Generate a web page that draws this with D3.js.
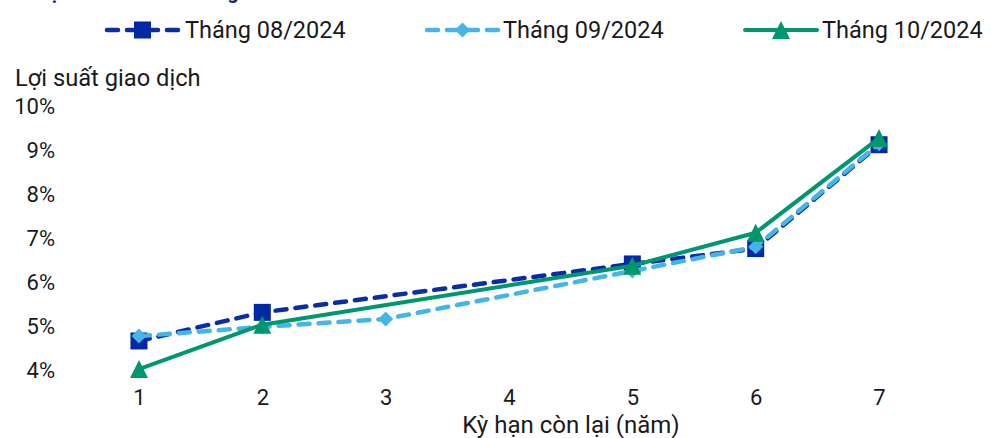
<!DOCTYPE html>
<html>
<head>
<meta charset="utf-8">
<script src="https://cdn.jsdelivr.net/npm/d3@7/dist/d3.min.js"></script>
<style>
  html, body { margin: 0; padding: 0; background: #ffffff; }
  svg { display: block; }
  text { font-family: Roboto, "Noto Sans", sans-serif; }
</style>
</head>
<body>
<div id="chart"></div>
<script>
// ---- data ----
const categories = [1, 2, 3, 4, 5, 6, 7];
const seriesNames = ["Tháng 08/2024", "Tháng 09/2024", "Tháng 10/2024"];
const values08 = [4.66, 5.31, null, null, 6.41, 6.76, 9.12];
const values09 = [4.77, 4.98, 5.16, null, 6.25, 6.80, 9.14];
const values10 = [4.02, 5.03, null, null, 6.37, 7.12, 9.27];
const yTicks = [4, 5, 6, 7, 8, 9, 10];
const yAxisTitle = "Lợi suất giao dịch";
const xAxisTitle = "Kỳ hạn còn lại (năm)";
const titleText = "Lợi suất TPCP đã tăng";

const W = 991, H = 438;
const svg = d3.select("#chart").append("svg").attr("width", W).attr("height", H);

const x = d3.scalePoint().domain(categories).range([77.3, 940.7]).padding(0.5);
const y = d3.scaleLinear().domain([4, 10]).range([370, 106]);

const styles = [
  { color: "#0A2CA5", dash: "11,9", width: 4.5, marker: "square", mcolor: "#0029A3" },
  { color: "#45B5E8", dash: "11,9", width: 4.5, marker: "diamond", mcolor: "#45B5E8" },
  { color: "#00976F", dash: null, width: 4, marker: "triangle", mcolor: "#00976F" }
];
const allSeries = [values08, values09, values10];

// cut-off title (the reference shows only its lower edge)
svg.append("text").attr("x", 38).attr("y", -1.5)
  .attr("font-size", 20).attr("font-weight", "bold").attr("fill", "#1B2A72")
  .text(titleText);

// axes (labels only)
const yAxis = d3.axisLeft(y).tickValues(yTicks).tickFormat(d => d + "%").tickSize(0).tickPadding(0);
const gy = svg.append("g").attr("transform", "translate(55,0)").call(yAxis);
gy.select(".domain").remove();
gy.selectAll("text").attr("font-size", 22).attr("fill", "#1a1a1a")
  .attr("font-family", "Roboto, sans-serif").attr("dy", "0.35em");

const xAxis = d3.axisBottom(x).tickSize(0).tickPadding(0);
const gx = svg.append("g").attr("transform", "translate(0,389.5)").call(xAxis);
gx.select(".domain").remove();
gx.selectAll("text").attr("font-size", 22).attr("fill", "#1a1a1a")
  .attr("font-family", "Roboto, sans-serif").attr("dy", "0.71em");

svg.append("text").attr("x", 15).attr("y", 86).attr("font-size", 23.7).attr("fill", "#1a1a1a")
  .text(yAxisTitle);
svg.append("text").attr("x", 571).attr("y", 433).attr("text-anchor", "middle")
  .attr("font-size", 24).attr("fill", "#1a1a1a").text(xAxisTitle);

// markers
function drawMarker(g, type, cx, cy, color) {
  if (type === "square") {
    g.append("rect").attr("x", cx - 8.5).attr("y", cy - 8.5).attr("width", 17).attr("height", 17).attr("fill", color);
  } else if (type === "diamond") {
    const s = 7.5;
    g.append("path").attr("d", `M${cx},${cy - s}L${cx + s},${cy}L${cx},${cy + s}L${cx - s},${cy}Z`).attr("fill", color);
  } else {
    const s = 9;
    g.append("path").attr("d", `M${cx},${cy - s}L${cx + s},${cy + s}L${cx - s},${cy + s}Z`).attr("fill", color);
  }
}

// lines
allSeries.forEach((vals, i) => {
  const st = styles[i];
  const pts = categories.map((c, j) => ({ c, v: vals[j] })).filter(d => d.v !== null);
  const line = d3.line().x(d => x(d.c)).y(d => y(d.v));
  const p = svg.append("path").datum(pts).attr("d", line)
    .attr("fill", "none").attr("stroke", st.color).attr("stroke-width", st.width)
    .attr("stroke-linejoin", "round").attr("stroke-linecap", "round");
  if (st.dash) p.attr("stroke-dasharray", st.dash);
  const g = svg.append("g");
  pts.forEach(d => drawMarker(g, st.marker, x(d.c), y(d.v), st.mcolor));
});

// legend
const legendItems = [
  { x0: 107, x1: 178, tx: 185 },
  { x0: 427, x1: 498, tx: 503 },
  { x0: 745, x1: 817, tx: 822 }
];
legendItems.forEach((li, i) => {
  const st = styles[i];
  const g = svg.append("g");
  const l = g.append("line").attr("x1", li.x0).attr("x2", li.x1).attr("y1", 30).attr("y2", 30)
    .attr("stroke", st.color).attr("stroke-width", st.width).attr("stroke-linecap", "round");
  if (st.dash) l.attr("stroke-dasharray", st.dash);
  drawMarker(g, st.marker, (li.x0 + li.x1) / 2, 30, st.mcolor);
  g.append("text").attr("x", li.tx).attr("y", 37.5).attr("font-size", 23.5).attr("fill", "#1a1a1a")
    .text(seriesNames[i]);
});
</script>
</body>
</html>
